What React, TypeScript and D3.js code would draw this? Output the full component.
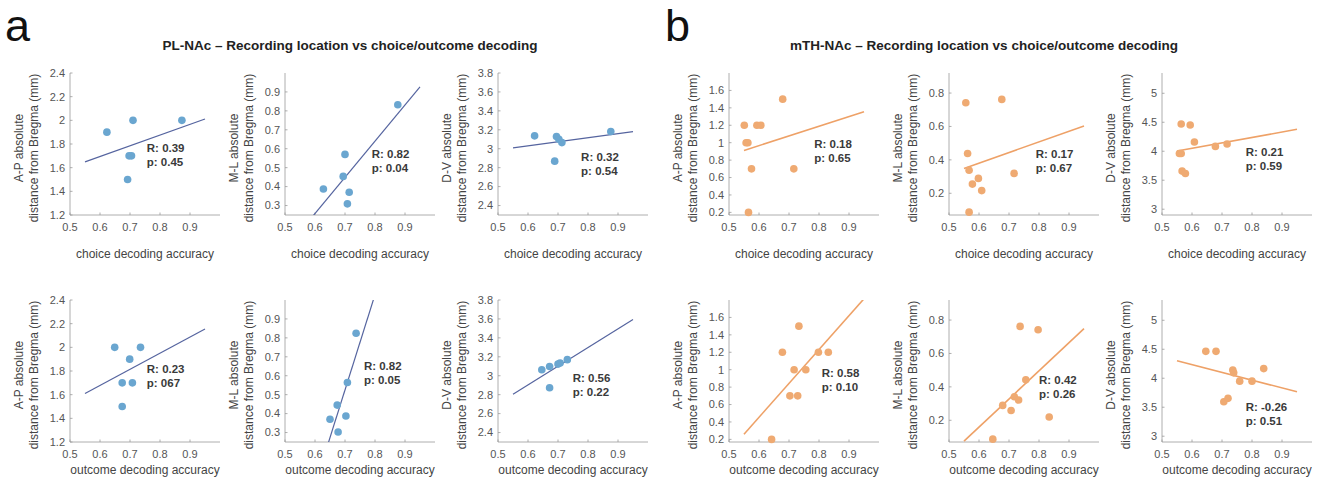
import React from 'react';
import * as d3 from 'd3';

const W = 1320;
const H = 480;

const xTicks = [0.5, 0.6, 0.7, 0.8, 0.9];
const xDomain = [0.5, 1.0];
const fitRange = [0.55, 0.95];

// y tick labels per measure
const plApTicks = [1.2, 1.4, 1.6, 1.8, 2, 2.2, 2.4];
const plMlTicks = [0.3, 0.4, 0.5, 0.6, 0.7, 0.8, 0.9];
const plDvTicks = [2.4, 2.6, 2.8, 3, 3.2, 3.4, 3.6, 3.8];
const thApTicks = [0.2, 0.4, 0.6, 0.8, 1, 1.2, 1.4, 1.6];
const thMlTicks = [0.2, 0.4, 0.6, 0.8];
const thDvTicks = [3, 3.5, 4, 4.5, 5];

// PL-NAc, choice decoding
const plChoiceApX = [0.623, 0.71, 0.873, 0.697, 0.705, 0.692];
const plChoiceApY = [1.9, 2.0, 2.0, 1.7, 1.7, 1.5];
const plChoiceMlX = [0.628, 0.7, 0.694, 0.714, 0.708, 0.876];
const plChoiceMlY = [0.387, 0.57, 0.454, 0.37, 0.309, 0.832];
const plChoiceDvX = [0.622, 0.695, 0.703, 0.713, 0.689, 0.876];
const plChoiceDvY = [3.136, 3.13, 3.1, 3.065, 2.869, 3.182];

// PL-NAc, outcome decoding
const plOutcomeApX = [0.649, 0.735, 0.699, 0.674, 0.708, 0.674];
const plOutcomeApY = [2.0, 2.0, 1.9, 1.7, 1.7, 1.5];
const plOutcomeMlX = [0.737, 0.708, 0.674, 0.703, 0.65, 0.677];
const plOutcomeMlY = [0.824, 0.564, 0.445, 0.387, 0.37, 0.303];
const plOutcomeDvX = [0.646, 0.672, 0.7, 0.707, 0.731, 0.672];
const plOutcomeDvY = [3.063, 3.098, 3.123, 3.134, 3.17, 2.873];

// mTH-NAc, choice decoding
const thChoiceApX = [0.551, 0.593, 0.606, 0.557, 0.563, 0.575, 0.716, 0.679, 0.565];
const thChoiceApY = [1.2, 1.2, 1.2, 1.0, 1.0, 0.7, 0.7, 1.5, 0.2];
const thChoiceMlX = [0.556, 0.676, 0.562, 0.567, 0.598, 0.578, 0.609, 0.717, 0.567];
const thChoiceMlY = [0.742, 0.762, 0.438, 0.338, 0.289, 0.255, 0.216, 0.319, 0.087];
const thChoiceDvX = [0.564, 0.594, 0.608, 0.558, 0.564, 0.567, 0.578, 0.678, 0.717];
const thChoiceDvY = [4.47, 4.452, 4.159, 3.96, 3.96, 3.657, 3.617, 4.084, 4.124];

// mTH-NAc, outcome decoding
const thOutcomeApX = [0.733, 0.678, 0.798, 0.831, 0.717, 0.756, 0.703, 0.729, 0.642];
const thOutcomeApY = [1.5, 1.2, 1.2, 1.2, 1.0, 1.0, 0.7, 0.7, 0.2];
const thOutcomeMlX = [0.737, 0.797, 0.756, 0.718, 0.732, 0.679, 0.707, 0.834, 0.646];
const thOutcomeMlY = [0.762, 0.742, 0.442, 0.341, 0.321, 0.289, 0.259, 0.22, 0.087];
const thOutcomeDvX = [0.646, 0.68, 0.736, 0.739, 0.759, 0.8, 0.839, 0.706, 0.72];
const thOutcomeDvY = [4.464, 4.464, 4.143, 4.093, 3.95, 3.95, 4.166, 3.595, 3.653];

// stats text: [R, p] and where it sits (data coords)
const statsR = ['0.39', '0.82', '0.32', '0.23', '0.82', '0.56', '0.18', '0.17', '0.21', '0.58', '0.42', '-0.26'];
const statsP = ['0.45', '0.04', '0.54', '067', '0.05', '0.22', '0.65', '0.67', '0.59', '0.10', '0.26', '0.51'];
const statsAt = [
  [0.756, 1.77], [0.789, 0.571], [0.777, 2.916],
  [0.756, 1.821], [0.763, 0.653], [0.749, 2.973],
  [0.784, 0.985], [0.789, 0.433], [0.779, 3.995],
  [0.809, 0.959], [0.8, 0.441], [0.779, 3.511],
];

const blue = { dot: '#6aa6d0', line: '#55649f' };
const orange = { dot: '#efaa72', line: '#eea167' };

const colLeft = [70, 285, 498, 729, 949, 1162];
const rowTop = [73, 300];
const plotW = 150;
const plotH = 142;

const font = '"Liberation Sans", Arial, Helvetica, sans-serif';

const measures = [
  { name: 'A-P', pl: [1.2, 2.4], th: [0.17, 1.8], plT: plApTicks, thT: thApTicks },
  { name: 'M-L', pl: [0.25, 1.0], th: [0.07, 0.92], plT: plMlTicks, thT: thMlTicks },
  { name: 'D-V', pl: [2.3, 3.8], th: [2.9, 5.35], plT: plDvTicks, thT: thDvTicks },
];

const pointSets = [
  [plChoiceApX, plChoiceApY], [plChoiceMlX, plChoiceMlY], [plChoiceDvX, plChoiceDvY],
  [plOutcomeApX, plOutcomeApY], [plOutcomeMlX, plOutcomeMlY], [plOutcomeDvX, plOutcomeDvY],
  [thChoiceApX, thChoiceApY], [thChoiceMlX, thChoiceMlY], [thChoiceDvX, thChoiceDvY],
  [thOutcomeApX, thOutcomeApY], [thOutcomeMlX, thOutcomeMlY], [thOutcomeDvX, thOutcomeDvY],
];

function fit(xs: number[], ys: number[]) {
  const mx = d3.mean(xs) as number;
  const my = d3.mean(ys) as number;
  let sxy = 0;
  let sxx = 0;
  xs.forEach((x, i) => {
    sxy += (x - mx) * (ys[i] - my);
    sxx += (x - mx) * (x - mx);
  });
  const b = sxy / sxx;
  return (x: number) => my + b * (x - mx);
}

const fmt = (v: number) => String(+v.toFixed(2));

function Panel({ idx }: { idx: number }) {
  const group = idx < 6 ? 0 : 1; // 0 = PL, 1 = mTH
  const row = Math.floor((idx % 6) / 3);
  const m = idx % 3;
  const col = group * 3 + m;
  const left = colLeft[col];
  const top = rowTop[row];
  const meas = measures[m];
  const yDom = group === 0 ? meas.pl : meas.th;
  const yTicks = group === 0 ? meas.plT : meas.thT;
  const color = group === 0 ? blue : orange;
  const [xs, ys] = pointSets[idx];

  const x = d3.scaleLinear().domain(xDomain).range([0, plotW]);
  const y = d3.scaleLinear().domain(yDom).range([plotH, 0]);
  const f = fit(xs, ys);
  const line = d3.line<number>().x((d) => x(d)).y((d) => y(f(d)));
  const clipId = `clip-${idx}`;
  const [sx, sy] = statsAt[idx];
  const xLabel = row === 0 ? 'choice decoding accuracy' : 'outcome decoding accuracy';

  return (
    <g transform={`translate(${left},${top})`}>
      <defs>
        <clipPath id={clipId}>
          <rect x={0} y={0} width={plotW} height={plotH} />
        </clipPath>
      </defs>
      {/* axes */}
      <line x1={0} x2={0} y1={0} y2={plotH} stroke="#9a9a9a" strokeWidth={0.8} />
      <line x1={0} x2={plotW} y1={plotH} y2={plotH} stroke="#9a9a9a" strokeWidth={0.8} />
      {yTicks.map((t) => (
        <g key={`y${t}`}>
          <line x1={0} x2={2.5} y1={y(t)} y2={y(t)} stroke="#9a9a9a" strokeWidth={0.8} />
          <text x={-5} y={y(t)} dy="0.35em" textAnchor="end" fontSize={11} fill="#555">
            {fmt(t)}
          </text>
        </g>
      ))}
      {xTicks.map((t) => (
        <g key={`x${t}`}>
          <line x1={x(t)} x2={x(t)} y1={plotH} y2={plotH - 2.5} stroke="#9a9a9a" strokeWidth={0.8} />
          <text x={x(t)} y={plotH + 16} textAnchor="middle" fontSize={11} fill="#555">
            {fmt(t)}
          </text>
        </g>
      ))}
      {/* labels */}
      <text x={plotW / 2} y={plotH + (row === 0 ? 43 : 32)} textAnchor="middle" fontSize={12} fill="#444">
        {xLabel}
      </text>
      <g transform={`translate(${-47},${plotH / 2 + 4}) rotate(-90)`}>
        <text textAnchor="middle" fontSize={12} fill="#444">{`${meas.name} absolute`}</text>
        <text y={14.5} textAnchor="middle" fontSize={12} fill="#444">distance from Bregma (mm)</text>
      </g>
      {/* fit */}
      <path d={line(fitRange) ?? ''} fill="none" stroke={color.line} strokeWidth={group === 0 ? 1.2 : 1.6} clipPath={`url(#${clipId})`} />
      {/* points */}
      {xs.map((v, i) => (
        <circle key={i} cx={x(v)} cy={y(ys[i])} r={3.8} fill={color.dot} />
      ))}
      {/* stats */}
      <text x={x(sx)} y={y(sy)} dy="0.35em" fontSize={11.5} fontWeight="bold" fill="#3a3a3a">
        {`R: ${statsR[idx]}`}
      </text>
      <text x={x(sx)} y={y(sy) + 14} dy="0.35em" fontSize={11.5} fontWeight="bold" fill="#3a3a3a">
        {`p: ${statsP[idx]}`}
      </text>
    </g>
  );
}

export default function App() {
  return (
    <svg
      width={W}
      height={H}
      style={{ position: 'absolute', left: 0, top: 0, background: '#fff' }}
      fontFamily={font}
    >
      <text x={5} y={41} fontSize={45} fill="#111">a</text>
      <text x={665} y={41} fontSize={45} fill="#111">b</text>
      <text x={350} y={50} textAnchor="middle" fontSize={13.5} fontWeight="bold" fill="#222">
        PL-NAc – Recording location vs choice/outcome decoding
      </text>
      <text x={984} y={50} textAnchor="middle" fontSize={13.5} fontWeight="bold" fill="#222">
        mTH-NAc – Recording location vs choice/outcome decoding
      </text>
      {d3.range(12).map((i) => (
        <Panel key={i} idx={i} />
      ))}
    </svg>
  );
}
